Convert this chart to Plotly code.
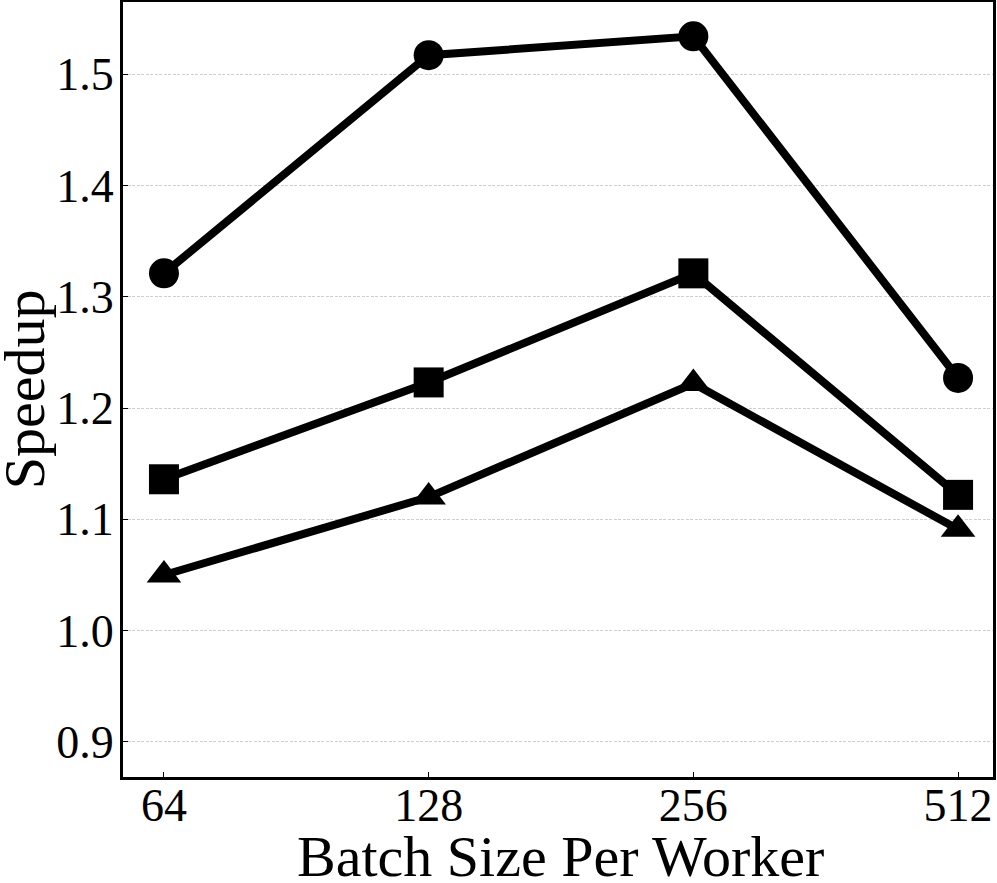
import plotly.graph_objects as go

batch_sizes = [64, 128, 256, 512]
tick_labels = ["64", "128", "256", "512"]
speedup_circle = [1.321, 1.517, 1.534, 1.227]
speedup_square = [1.136, 1.223, 1.321, 1.122]
speedup_triangle = [1.050, 1.120, 1.222, 1.091]
y_ticks = [0.9, 1.0, 1.1, 1.2, 1.3, 1.4, 1.5]
y_tick_labels = ["0.9", "1.0", "1.1", "1.2", "1.3", "1.4", "1.5"]

FONT = "Liberation Serif, Times New Roman, serif"

fig = go.Figure()
for ys, sym in [(speedup_circle, "circle"), (speedup_square, "square"), (speedup_triangle, "triangle-up")]:
    fig.add_trace(go.Scatter(
        x=batch_sizes, y=ys, mode="lines+markers",
        line=dict(color="black", width=8),
        marker=dict(symbol=sym, size=30, color="black"),
        showlegend=False, cliponaxis=False,
    ))

fig.update_layout(
    width=997, height=883,
    margin=dict(l=123, r=4, t=2, b=106),
    plot_bgcolor="white", paper_bgcolor="white",
    font=dict(family=FONT, color="black", size=46),
)
fig.update_xaxes(
    type="log", range=[1.7596, 2.749], automargin=False,
    tickvals=batch_sizes, ticktext=tick_labels,
    ticks="inside", ticklen=5, tickwidth=1, tickcolor="black",
    showline=True, linecolor="black", linewidth=3, mirror=True,
    showgrid=False, zeroline=False,
    tickfont=dict(size=46, family=FONT), ticklabelstandoff=-14,
)
fig.update_yaxes(
    range=[0.8685, 1.5648], automargin=False,
    tickvals=y_ticks, ticktext=y_tick_labels,
    ticks="inside", ticklen=5, tickwidth=1, tickcolor="black",
    showline=True, linecolor="black", linewidth=3, mirror=True,
    showgrid=True, gridcolor="#cfcfcf", griddash="3px,1.5px", gridwidth=1,
    zeroline=False,
    tickfont=dict(size=46, family=FONT), ticklabelstandoff=-3,
)
fig.add_annotation(text="Speedup", xref="paper", yref="paper", x=-0.113, y=0.5,
                   xanchor="center", yanchor="middle", textangle=-90, showarrow=False,
                   font=dict(size=58, family=FONT, color="black"))
fig.add_annotation(text="Batch Size Per Worker", xref="paper", yref="paper", x=0.503, y=-0.058,
                   xanchor="center", yanchor="top", showarrow=False,
                   font=dict(size=58, family=FONT, color="black"))

fig.write_html("out.html", config={"displayModeBar": False},
               post_script="document.body.style.margin='0';")
